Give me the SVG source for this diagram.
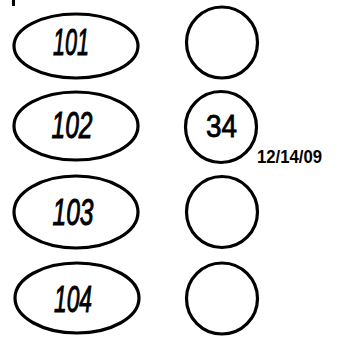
<svg xmlns="http://www.w3.org/2000/svg" width="343" height="339" viewBox="0 0 343 339">
<style>
.sh{fill:#fff;stroke:#000;stroke-width:3.2}
.lbl{font-family:"Liberation Sans",Arial,sans-serif;font-style:italic;font-size:36px;fill:#000;stroke:#000;stroke-width:1;text-anchor:middle}
.num{font-family:"Liberation Sans",Arial,sans-serif;font-size:31px;fill:#000;stroke:#000;stroke-width:0.8;text-anchor:middle}
.date{font-family:"Liberation Sans",Arial,sans-serif;font-weight:bold;font-size:19px;fill:#000}
</style>
<rect x="12" y="0" width="3" height="6" fill="#000"/>
<g id="connectors"></g>
<g id="e101"><ellipse class="sh" cx="76" cy="46" rx="62" ry="32"/><text class="lbl" x="71" y="55" textLength="36" lengthAdjust="spacingAndGlyphs">101</text></g>
<g id="e102"><ellipse class="sh" cx="76" cy="126" rx="62" ry="34"/><text class="lbl" x="72" y="138" textLength="41" lengthAdjust="spacingAndGlyphs">102</text></g>
<g id="e103"><ellipse class="sh" cx="76" cy="212" rx="62" ry="36"/><text class="lbl" x="73" y="225" textLength="41" lengthAdjust="spacingAndGlyphs">103</text></g>
<g id="e104"><ellipse class="sh" cx="77" cy="298" rx="62" ry="35"/><text class="lbl" x="73" y="312" textLength="38" lengthAdjust="spacingAndGlyphs">104</text></g>
<g id="c1"><circle class="sh" cx="222" cy="42.5" r="35.5"/></g>
<g id="c2"><circle class="sh" cx="221" cy="127" r="35.5"/><text class="num" x="221.5" y="137" textLength="31" lengthAdjust="spacingAndGlyphs">34</text></g>
<g id="date"><text class="date" x="257" y="163" textLength="65" lengthAdjust="spacingAndGlyphs">12/14/09</text></g>
<g id="c3"><circle class="sh" cx="222" cy="212" r="35.5"/></g>
<g id="c4"><circle class="sh" cx="222" cy="298.5" r="35.5"/></g>
</svg>
